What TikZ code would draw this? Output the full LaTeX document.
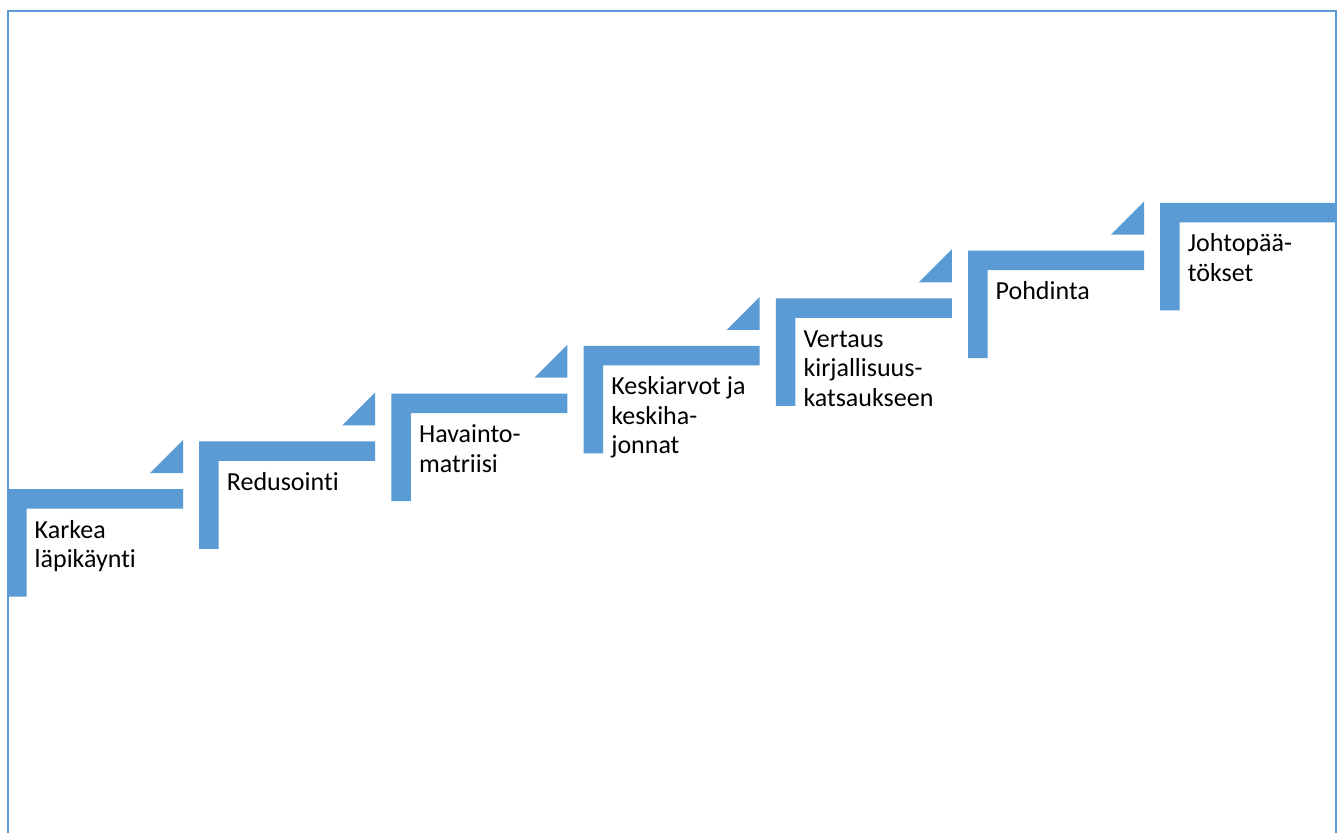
\documentclass[tikz,border=0pt]{standalone}
\usepackage{fontspec}
\setmainfont{Carlito}[Ligatures={NoCommon}]
\definecolor{stepblue}{HTML}{5B9BD5}
\tikzset{
  stepbar/.style={fill=stepblue, draw=none},
  steptri/.style={fill=stepblue, draw=none},
  steplabel/.style={anchor=base west, inner sep=0pt, align=left, text=black,
    font=\fontsize{26}{29.5}\selectfont},
  framebox/.style={draw=stepblue, line width=2.4pt}
}
\begin{document}
\begin{tikzpicture}[x=1pt,y=-1pt]
\useasboundingbox (0,0) rectangle (1340,832);
\fill[white] (0,0) rectangle (1340,832);
\draw[framebox] (8,845) -- (8,11) -- (1336,11) -- (1336,845);
\foreach \i/\n/\lbl in {0/1/{Karkea\\läpikäynti},1/0/{Redusointi},2/1/{Havainto-\\matriisi},3/2/{Keskiarvot ja\\keskiha-\\jonnat},4/2/{Vertaus\\kirjallisuus-\\katsaukseen},5/0/{Pohdinta},6/1/{Johtopää-\\tökset}}{
  \pgfmathsetmacro{\xo}{7+192.2*\i}
  \pgfmathsetmacro{\yo}{489-47.67*\i}
  \fill[stepbar] (\xo,\yo) -- (\xo+176,\yo) -- (\xo+176,\yo+19.5) -- (\xo+19.5,\yo+19.5) -- (\xo+19.5,\yo+107.5) -- (\xo,\yo+107.5) -- cycle;
  \ifnum\i<6
    \fill[steptri] (\xo+143,\yo-16) -- (\xo+176,\yo-49) -- (\xo+176,\yo-16) -- cycle;
  \fi
  \node[steplabel] (s\i) at (\xo+27.5,\yo+49+29.5*\n) {\lbl};
}
\end{tikzpicture}
\end{document}
